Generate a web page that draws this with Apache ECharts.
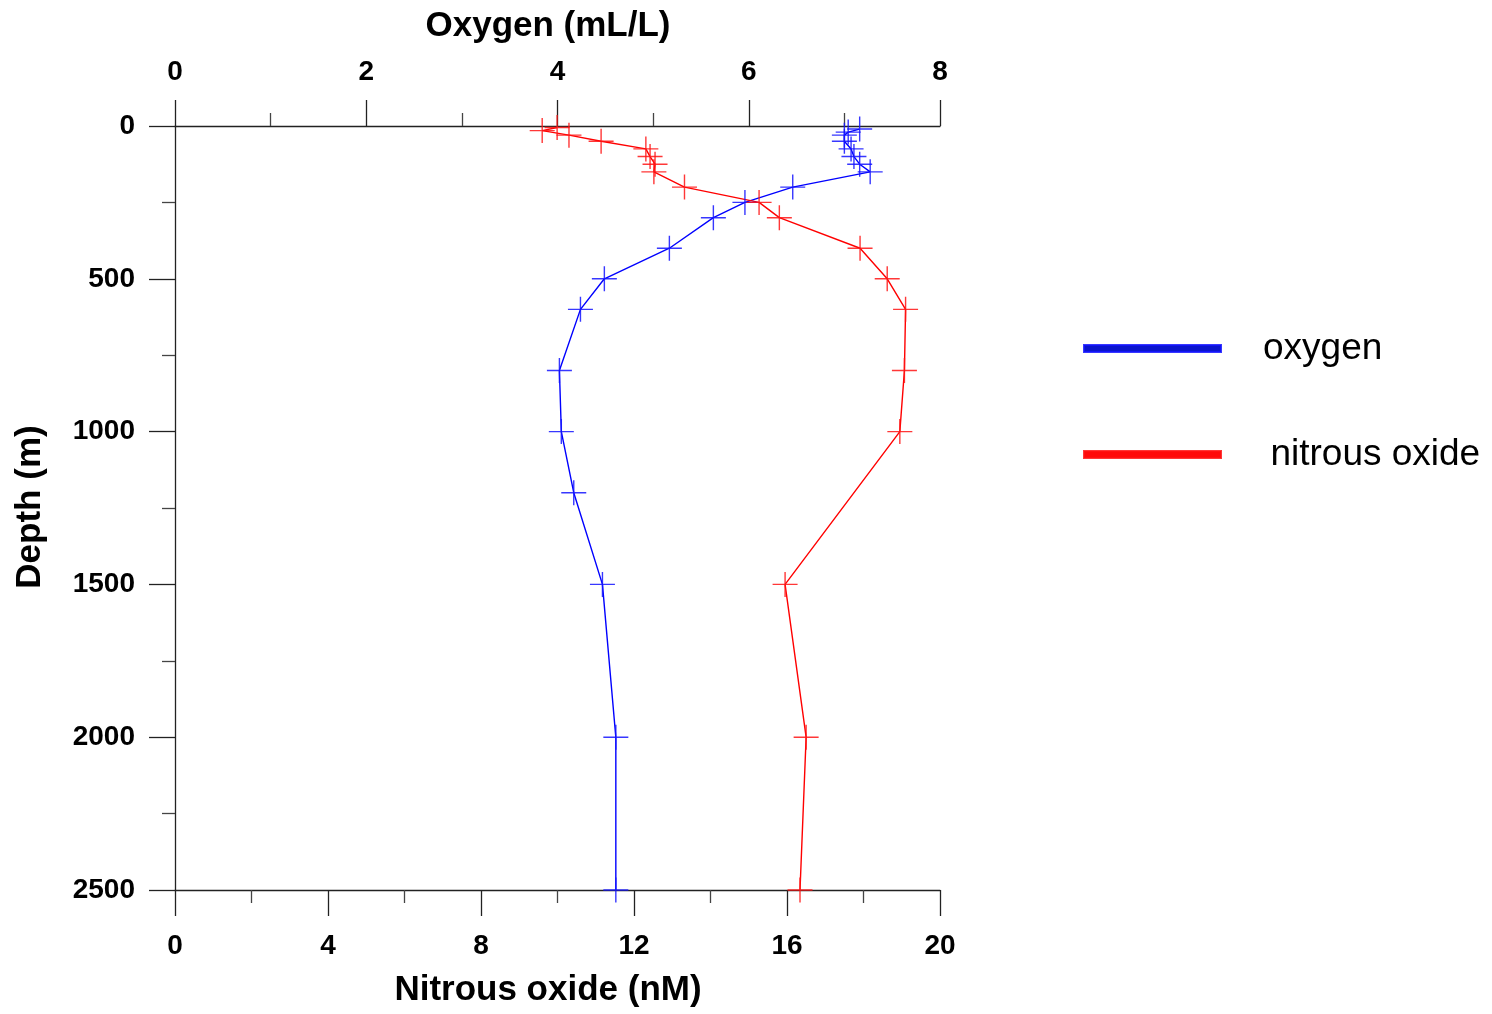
<!DOCTYPE html>
<html>
<head>
<meta charset="utf-8">
<script src="https://cdn.jsdelivr.net/npm/echarts@6/dist/echarts.min.js"></script>
<style>
html,body{margin:0;padding:0;background:#fff;}
#chart{width:1492px;height:1014px;}
</style>
</head>
<body>
<div id="chart"></div>
<script>
// Oxygen profile (mL/L) vs depth (m)
var oxygenDepth = [10, 20, 30, 50, 75, 100, 125, 150, 200, 250, 300, 400, 500, 600, 800, 1000, 1200, 1500, 2000, 2500];
var oxygenValues = [7.16, 7.04, 7.0, 7.0, 7.07, 7.1, 7.16, 7.27, 6.46, 5.96, 5.63, 5.17, 4.49, 4.24, 4.02, 4.04, 4.17, 4.47, 4.61, 4.61];
// Nitrous oxide profile (nM) vs depth (m)
var n2oDepth = [5, 15, 30, 50, 75, 100, 125, 150, 200, 250, 300, 400, 500, 600, 800, 1000, 1500, 2000, 2500];
var n2oValues = [9.99, 9.6, 10.3, 11.14, 12.31, 12.42, 12.55, 12.52, 13.32, 15.27, 15.8, 17.91, 18.62, 19.1, 19.07, 18.95, 15.95, 16.5, 16.34];
var oxygenTicks = [0, 2, 4, 6, 8];
var n2oTicks = [0, 4, 8, 12, 16, 20];
var depthTicks = [0, 500, 1000, 1500, 2000, 2500];
var titles = { top: 'Oxygen (mL/L)', bottom: 'Nitrous oxide (nM)', left: 'Depth (m)' };

function pairs(xs, ds) { return xs.map(function (v, i) { return [v, ds[i]]; }); }

var FONT = '"Liberation Sans", Arial, sans-serif';
var crossPath = 'path://M0,-1L0,1M-1,0L1,0';

var axisCommon = function (min, max, interval, pos) {
  return {
    type: 'value', position: pos, min: min, max: max, interval: interval,
    splitLine: { show: false },
    axisLine: { show: true, onZero: false, lineStyle: { color: '#222', width: 1.3 } },
    axisTick: { show: true, inside: false, length: 26, lineStyle: { color: '#222', width: 1.3 } },
    minorTick: { show: true, splitNumber: 2, length: 13, lineStyle: { color: '#444', width: 1.3 } },
    axisLabel: {
      fontFamily: FONT, fontWeight: 'bold', fontSize: 28, color: '#000', margin: 42,
      formatter: function (v) { return String(v); }
    }
  };
};

var xBottom = axisCommon(n2oTicks[0], n2oTicks[n2oTicks.length - 1], 4, 'bottom');
var xTop = axisCommon(oxygenTicks[0], oxygenTicks[oxygenTicks.length - 1], 2, 'top');
xTop.axisLabel.margin = 40;
var yLeft = axisCommon(depthTicks[0], depthTicks[depthTicks.length - 1], 500, 'left');
yLeft.inverse = true;
yLeft.axisLabel.margin = 40;

var titleStyle = { fontFamily: FONT, fontWeight: 'bold', fontSize: 35, fill: '#000', textAlign: 'center', textVerticalAlign: 'middle', align: 'center', verticalAlign: 'middle' };
function titleText(text, x, y, rot) {
  var s = Object.assign({}, titleStyle, { text: text });
  return { type: 'text', x: x, y: y, rotation: rot || 0, style: s };
}

var chart = echarts.init(document.getElementById('chart'));
chart.setOption({
  backgroundColor: '#fff',
  animation: false,
  grid: { left: 175, right: 552, top: 126, bottom: 124, containLabel: false, outerBoundsMode: 'none' },
  xAxis: [xBottom, xTop],
  yAxis: [yLeft],
  graphic: [
    titleText(titles.top, 548, 26),
    titleText(titles.bottom, 548, 990),
    titleText(titles.left, 30, 507, Math.PI / 2)
  ],
  legend: {
    orient: 'vertical', left: 1083, top: 330, itemGap: 69, padding: 0,
    itemWidth: 137, itemHeight: 7, icon: 'rect',
    textStyle: { fontFamily: FONT, fontSize: 37, color: '#000', padding: [0, 0, 0, 37] },
    formatter: function (n) { return n === 'nitrous oxide' ? '\u2009' + n : n; },
    data: [
      { name: 'oxygen', itemStyle: { color: '#0a14cc' } },
      { name: 'nitrous oxide', itemStyle: { color: '#ff0a0a' } }
    ]
  },
  series: [
    {
      name: 'oxygen', type: 'line', xAxisIndex: 1, yAxisIndex: 0,
      data: pairs(oxygenValues, oxygenDepth),
      symbol: crossPath, symbolSize: 25, showAllSymbol: true, clip: false,
      lineStyle: { color: '#0000ff', width: 1.4 },
      itemStyle: { color: 'none', borderColor: 'rgba(20,20,255,0.85)', borderWidth: 1.4 }
    },
    {
      name: 'nitrous oxide', type: 'line', xAxisIndex: 0, yAxisIndex: 0,
      data: pairs(n2oValues, n2oDepth),
      symbol: crossPath, symbolSize: 25, showAllSymbol: true, clip: false,
      lineStyle: { color: '#ff0000', width: 1.4 },
      itemStyle: { color: 'none', borderColor: 'rgba(255,20,20,0.85)', borderWidth: 1.4 }
    }
  ]
});
</script>
</body>
</html>
